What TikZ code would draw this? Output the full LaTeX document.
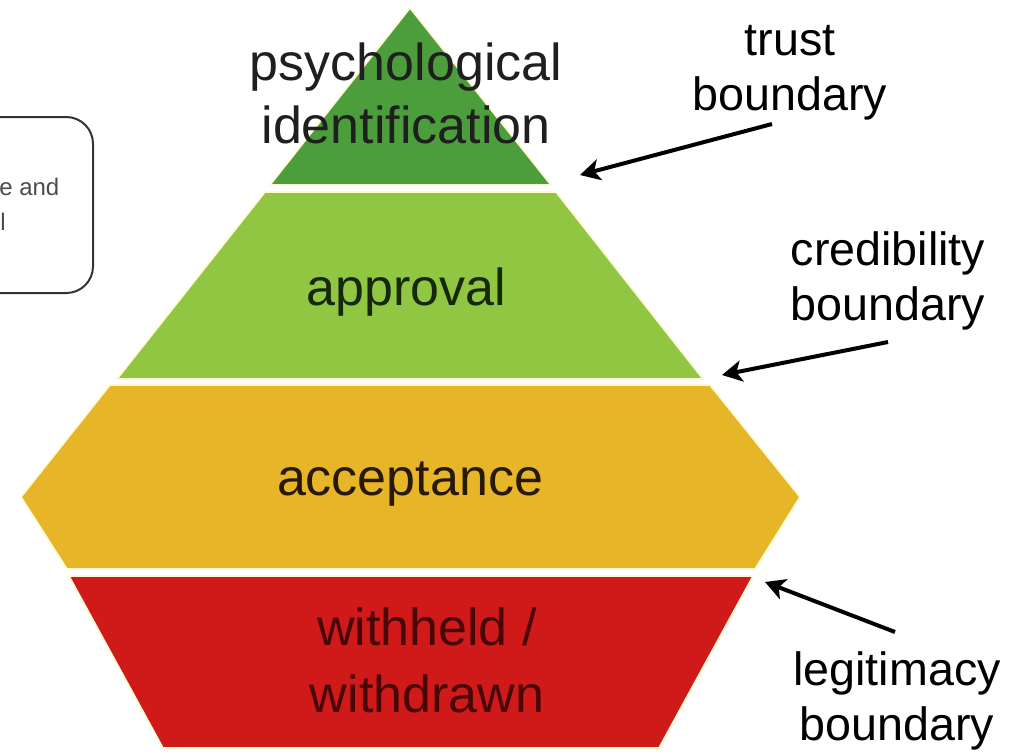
\documentclass[tikz,border=0pt]{standalone}
\usepackage{fontspec}
\setmainfont{Liberation Sans}
\usetikzlibrary{arrows.meta}

\definecolor{topgreen}{RGB}{76,158,61}
\definecolor{leafgreen}{RGB}{144,198,66}
\definecolor{amber}{RGB}{230,181,40}
\definecolor{crimson}{RGB}{208,26,26}
\definecolor{seam}{RGB}{255,250,208}
\definecolor{inkgreen}{RGB}{22,40,12}
\definecolor{inkbrown}{RGB}{40,24,6}
\definecolor{inkred}{RGB}{72,6,6}

\begin{document}
\begin{tikzpicture}[x=0.75pt,y=0.75pt,yscale=-1,xscale=1,
  layer/.style={draw=seam,line width=1.2pt,line join=miter},
  bigtext/.style={font=\fontsize{39}{47}\selectfont,align=center,inner sep=0pt},
  sidetext/.style={font=\fontsize{35}{41}\selectfont,align=center,inner sep=0pt},
  pointer/.style={line width=3pt,-{Stealth[length=15pt,width=16pt,inset=4pt]}}]
\clip (0,0) rectangle (1027,754);
\fill[white] (0,0) rectangle (1027,754);

%Shape: Rounded box cut by the left edge
\draw[line width=1.5pt,draw=black!80,rounded corners=20pt] (-60,117) rectangle (93,293);
\node[anchor=base west,inner sep=0pt,text=black!70,font=\fontsize{18}{26}\selectfont] (boxa) at (-1,195) {e and};
\node[anchor=base west,inner sep=0pt,text=black!70,font=\fontsize{18}{26}\selectfont] (boxb) at (0,230) {l};

%Shape: Pyramid layers
\filldraw[layer,fill=topgreen] (410,8) -- (551,185) -- (270,185) -- cycle;
\filldraw[layer,fill=leafgreen] (265,192) -- (556,192) -- (703,379) -- (117,379) -- cycle;
\filldraw[layer,fill=amber] (110,385) -- (710,385) -- (800,497) -- (755,569) -- (67,569) -- (21,497) -- cycle;
\filldraw[layer,fill=crimson] (69,576) -- (753,576) -- (659,748) -- (163,748) -- cycle;

% Text Node (base = last line)
\node[bigtext,anchor=base,text=black!88] (psych) at (406,143) {psychological\\identification};
% Text Node
\node[bigtext,anchor=base,text=inkgreen] (approval) at (406,305) {approval};
% Text Node
\node[bigtext,anchor=base,text=inkbrown] (accept) at (410,495) {acceptance};
% Text Node
\node[bigtext,anchor=base,text=inkred,font=\fontsize{39}{50}\selectfont] (withheld) at (427,712) {withheld /\\withdrawn};

% Text Node
\node[sidetext,anchor=base] (trust) at (790,110) {trust\\boundary};
% Text Node
\node[sidetext,anchor=base] (cred) at (888,320) {credibility\\boundary};
% Text Node
\node[sidetext,anchor=base] (legit) at (897,740) {legitimacy\\boundary};

%Straight Lines
\coordinate (trusttail) at (772,124);
\coordinate (trusttip) at (580,175);
\coordinate (credtail) at (888,342);
\coordinate (credtip) at (722,375);
\coordinate (legittail) at (895,632);
\coordinate (legittip) at (765,582);
\draw[pointer] (trusttail) -- (trusttip);
\draw[pointer] (credtail) -- (credtip);
\draw[pointer] (legittail) -- (legittip);

\end{tikzpicture}
\end{document}
